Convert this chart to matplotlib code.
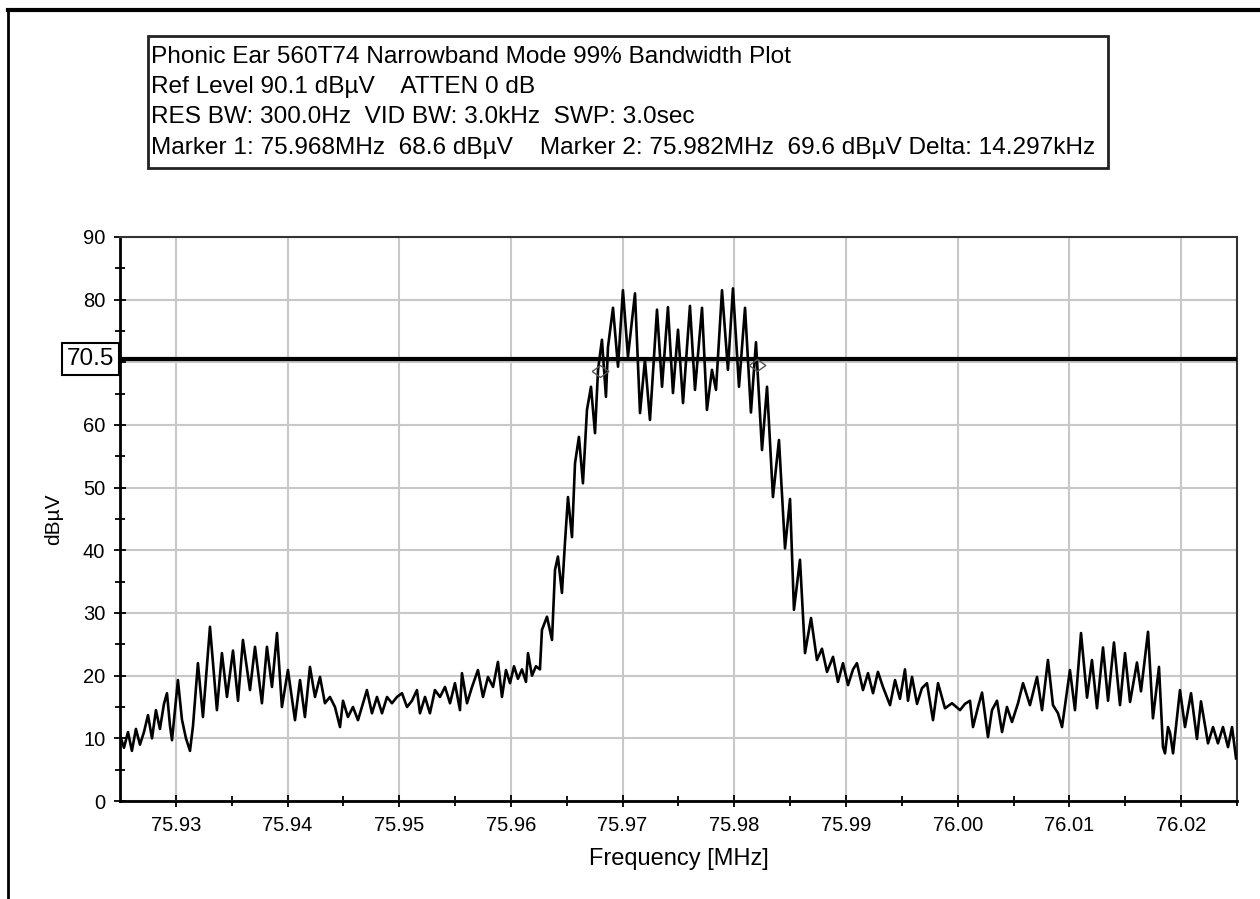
import numpy as np
import matplotlib
matplotlib.use("Agg")
import matplotlib.pyplot as plt
from matplotlib.patches import Rectangle
from matplotlib.lines import Line2D
from matplotlib.path import Path
import matplotlib.transforms as mtransforms

freq_low = [75.92500, 75.92536, 75.92572, 75.92607, 75.92643, 75.92679, 75.92715, 75.92751, 75.92787, 75.92822,
            75.92858, 75.92894, 75.92921, 75.92948, 75.92966, 75.93001, 75.93019, 75.93055, 75.93091, 75.93127,
            75.93154, 75.93198, 75.93243, 75.93306, 75.93368, 75.93413, 75.93458, 75.93512, 75.93557, 75.93601,
            75.93664, 75.93709, 75.93771, 75.93816, 75.93861, 75.93906, 75.93950, 75.94004, 75.94067, 75.94112,
            75.94156, 75.94201]
level_low = [10.5, 8.5, 11, 8, 11.5, 9, 11, 13.7, 10, 14.5,
             11.5, 15.5, 17.2, 12, 9.7, 16, 19.3, 13, 10, 8,
             12, 22, 13.4, 27.8, 14.5, 23.6, 16.6, 24, 16, 25.7,
             17.7, 24.6, 15.6, 24.6, 18.2, 26.8, 15, 20.9, 12.9, 19.3,
             13.4, 21.4]

freq_floor = [75.94246, 75.94291, 75.94335, 75.94380, 75.94425, 75.94470, 75.94497, 75.94541, 75.94586, 75.94631,
              75.94676, 75.94711, 75.94756, 75.94801, 75.94846, 75.94891, 75.94935, 75.94980, 75.95025, 75.95070,
              75.95114, 75.95159, 75.95186, 75.95231, 75.95275, 75.95320, 75.95365, 75.95410, 75.95455, 75.95499,
              75.95544, 75.95562, 75.95607, 75.95652, 75.95705, 75.95750, 75.95795, 75.95840, 75.95884, 75.95920]
level_floor = [16.6, 19.8, 15.6, 16.6, 15, 11.8, 16, 13.4, 15, 12.9,
               15.6, 17.7, 14, 16.6, 14, 16.6, 15.6, 16.6, 17.2, 15,
               16, 17.7, 14, 16.6, 14, 17.7, 16.6, 18.2, 15.6, 18.8,
               14.5, 20.4, 15.6, 18.2, 20.9, 16.6, 19.8, 18.2, 22.2, 16.6]

freq_main = [75.95956, 75.95992, 75.96028, 75.96063, 75.96099, 75.96135, 75.96153, 75.96189, 75.96224, 75.96260,
             75.96278, 75.96323, 75.96368, 75.96395, 75.96421, 75.96457, 75.96484, 75.96511, 75.96547, 75.96574,
             75.96609, 75.96645, 75.96681, 75.96717, 75.96753, 75.96780, 75.96815, 75.96851, 75.96869, 75.96914,
             75.96959, 75.97003, 75.97048, 75.97111, 75.97156, 75.97200, 75.97245, 75.97308, 75.97353, 75.97406,
             75.97451, 75.97496, 75.97541, 75.97603, 75.97648, 75.97711, 75.97755, 75.97800, 75.97836, 75.97890,
             75.97943, 75.97988, 75.98042, 75.98096, 75.98149, 75.98194, 75.98248, 75.98293, 75.98346, 75.98400,
             75.98454, 75.98499, 75.98534, 75.98588, 75.98633, 75.98687]
level_main = [20.9, 18.8, 21.5, 19.5, 21, 19, 23.6, 20, 21.5, 21,
              27.3, 29.4, 25.7, 36.9, 39, 33.2, 41.2, 48.5, 42.1, 53.9,
              58.1, 50.7, 62.4, 66.1, 58.7, 68.8, 73.6, 64.5, 72.4, 78.7,
              69.3, 81.5, 70.9, 81, 61.9, 70.4, 60.8, 78.4, 66.1, 78.8,
              65.1, 75.2, 63.5, 79, 65.6, 78.7, 62.4, 68.8, 65.6, 81.5,
              68.8, 81.8, 66.1, 78.7, 62, 73.2, 56, 66.1, 48.5, 57.6,
              40.3, 48.2, 30.5, 38.5, 23.6, 29.2]

freq_high = [75.98740, 75.98785, 75.98830, 75.98884, 75.98928, 75.98973, 75.99018, 75.99063, 75.99098, 75.99152,
             75.99197, 75.99242, 75.99286, 75.99331, 75.99394, 75.99439, 75.99483, 75.99528, 75.99555, 75.99591,
             75.99636, 75.99680, 75.99725, 75.99779, 75.99824, 75.99886, 75.99949, 76.00021, 76.00065, 76.00110,
             76.00137, 76.00182, 76.00218, 76.00271, 76.00307, 76.00352, 76.00397, 76.00441, 76.00486, 76.00540,
             76.00585, 76.00647, 76.00710, 76.00755, 76.00808, 76.00853, 76.00898, 76.00934, 76.01005, 76.01050,
             76.01104, 76.01158, 76.01202, 76.01247, 76.01301, 76.01346, 76.01399, 76.01453, 76.01498, 76.01543,
             76.01605, 76.01641, 76.01704, 76.01748, 76.01802, 76.01838, 76.01856, 76.01883, 76.01901, 76.01928,
             76.01990, 76.02035, 76.02089, 76.02142, 76.02178, 76.02241, 76.02286, 76.02330, 76.02375, 76.02420,
             76.02456, 76.02492]
level_high = [22.5, 24.3, 20.6, 23, 19, 22, 18.5, 21, 22, 17.7,
              20.4, 17.2, 20.6, 18.2, 15.3, 19.3, 16.3, 21, 16, 19.8,
              15.5, 18, 18.8, 12.9, 18.8, 14.8, 15.6, 14.5, 15.5, 16,
              11.8, 15, 17.3, 10.2, 14.5, 16, 11, 15, 12.6, 15.6,
              18.8, 15.3, 19.8, 14.5, 22.5, 15.3, 14, 11.8, 20.9, 14.5,
              26.8, 16.5, 22.5, 14.8, 24.5, 16, 25.3, 15.3, 23.6, 15.8,
              22.1, 17.5, 27, 13.2, 21.4, 8.6, 7.6, 11.8, 10.9, 7.6,
              17.7, 11.8, 17.2, 9.9, 15.9, 9.2, 11.8, 9.2, 11.8, 8.6,
              11.8, 6.8]

marker_freq = [75.968, 75.982]
marker_level = [68.6, 69.6]
threshold = 70.5

x_ticks = [75.93, 75.94, 75.95, 75.96, 75.97, 75.98, 75.99, 76.00, 76.01, 76.02]
y_ticks = [0, 10, 20, 30, 40, 50, 60, 70, 80, 90]
y_labels = ["0", "10", "20", "30", "40", "50", "60", "", "80", "90"]

header = ["Phonic Ear 560T74 Narrowband Mode 99% Bandwidth Plot",
          "Ref Level 90.1 dB\u00b5V    ATTEN 0 dB",
          "RES BW: 300.0Hz  VID BW: 3.0kHz  SWP: 3.0sec",
          "Marker 1: 75.968MHz  68.6 dB\u00b5V    Marker 2: 75.982MHz  69.6 dB\u00b5V Delta: 14.297kHz"]

plt.rcParams["font.family"] = ["Liberation Sans", "DejaVu Sans"]

freq = freq_low + freq_floor + freq_main + freq_high
level = level_low + level_floor + level_main + level_high

fig = plt.figure(figsize=(12.6, 8.99), dpi=100)
ax = fig.add_axes([0.0952, 0.1090, 0.8865, 0.6274])

ax.plot(freq, level, color="black", lw=1.9, zorder=3)
ax.axhline(threshold, color="black", lw=3, zorder=4)

# rombos de los marcadores
diamante = Path([(-1.4, 0), (0, 1), (1.4, 0), (0, -1), (-1.4, 0)])
ax.plot(marker_freq, marker_level, linestyle="none", marker=diamante, ms=12,
        mfc="none", mec="#555555", mew=1.0, zorder=5)

ax.set_xlim(75.925, 76.025)
ax.set_ylim(0, 90)
ax.set_xticks(x_ticks)
ax.set_xticklabels([f"{t:.2f}" for t in x_ticks])
ax.set_xticks(np.arange(75.935, 76.025, 0.01), minor=True)
ax.set_yticks(y_ticks)
ax.set_yticklabels(y_labels)
ax.set_yticks(np.arange(5, 90, 10), minor=True)
ax.tick_params(which="major", direction="inout", length=9, width=1.3, labelsize=14.5, pad=6)
ax.tick_params(which="minor", direction="inout", length=7, width=1.3)
ax.grid(True, which="major", color="#c8c8c8", lw=1.5)
ax.set_axisbelow(True)

for lado in ["left", "bottom"]:
    ax.spines[lado].set_linewidth(2)
    ax.spines[lado].set_color("black")
for lado in ["top", "right"]:
    ax.spines[lado].set_linewidth(1.5)
    ax.spines[lado].set_color("#333333")

ax.set_xlabel("Frequency [MHz]", fontsize=17, labelpad=10)
ax.set_ylabel("dB\u00b5V", fontsize=15, labelpad=14)

# caja con el nivel de umbral
trans = mtransforms.blended_transform_factory(ax.transAxes, ax.transData)
ax.text(-0.005, threshold, "70.5", transform=trans, ha="right", va="center", fontsize=17.5,
        bbox=dict(boxstyle="square,pad=0.2", fc="white", ec="black", lw=1.5))

# encabezado
fig.add_artist(Rectangle((0.1175, 0.8131), 0.7619, 0.1469, transform=fig.transFigure,
                         fc="white", ec="#222222", lw=2))
ys = [0.9366, 0.9032, 0.8699, 0.8354]
for texto, y in zip(header, ys):
    fig.text(0.1195, y, texto, ha="left", va="center", fontsize=17.6)

# marco exterior
fig.add_artist(Line2D([8 / 1260, 1], [1 - 10 / 899, 1 - 10 / 899], color="black", lw=3,
                      transform=fig.transFigure))
fig.add_artist(Line2D([8 / 1260, 8 / 1260], [0, 1 - 10 / 899], color="black", lw=2,
                      transform=fig.transFigure))

fig.savefig("out.png", dpi=100)
